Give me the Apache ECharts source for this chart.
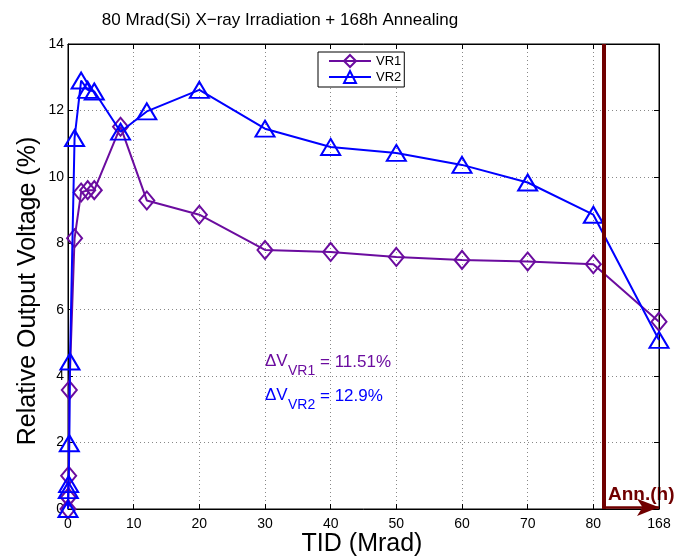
<!DOCTYPE html>
<html><head><meta charset="utf-8">
<script src="https://cdn.jsdelivr.net/npm/echarts@6/dist/echarts.min.js"></script>
<style>html,body{margin:0;padding:0;background:#fff}#c{width:678px;height:557px}</style>
</head><body><div id="c"></div>
<script>
// ---- data ----
const doseVR1 = [0, 0.05, 0.1, 0.2, 1, 2, 3, 4, 8, 12, 20, 30, 40, 50, 60, 70, 80, 90];
const vr1     = [0, 0.35, 1.0, 3.58, 8.15, 9.53, 9.6, 9.6, 11.51, 9.29, 8.86, 7.8, 7.74, 7.59, 7.5, 7.45, 7.37, 5.64];
const doseVR2 = [0, 0.05, 0.1, 0.2, 0.3, 1, 2, 3, 4, 8, 12, 20, 30, 40, 50, 60, 70, 80, 90];
const vr2     = [0, 0.57, 0.75, 1.98, 4.44, 11.17, 12.9, 12.62, 12.57, 11.36, 11.97, 12.62, 11.45, 10.9, 10.72, 10.36, 9.83, 8.86, 5.09];
const xTicks = [0, 10, 20, 30, 40, 50, 60, 70, 80, 90];
const xTickLabels = ['0', '10', '20', '30', '40', '50', '60', '70', '80', '168'];
const annealStart = 81.6;
const annealEnd = 90;
const seriesNames = ['VR1', 'VR2'];

const FF = '"Liberation Sans", Arial, Helvetica, sans-serif';
const PURPLE = '#6b0c9f', BLUE = '#0000ff', DARKRED = '#700000';

const chart = echarts.init(document.getElementById('c'));
const axisCommon = {
  type: 'value',
  axisLine: { show: true, onZero: false, lineStyle: { color: '#000', width: 1 } },
  axisTick: { show: true, inside: true, length: 5, lineStyle: { color: '#000' } },
};
const option = {
  animation: false,
  backgroundColor: '#fff',
  grid: { left: 68, right: 19, top: 44, bottom: 48, show: true, borderColor: '#000', borderWidth: 1 },
  legend: {
    data: seriesNames, left: 318, top: 52, orient: 'vertical',
    backgroundColor: '#fff', borderColor: '#000', borderWidth: 1,
    padding: [2, 3, 3, 10], itemWidth: 42, itemHeight: 15, itemGap: 2,
    textStyle: { fontFamily: FF, fontSize: 13, color: '#000' }
  },
  xAxis: [
    Object.assign({}, axisCommon, {
      min: 0, max: 90, interval: 10, position: 'bottom',
      axisLabel: { color: '#000', fontSize: 14, fontFamily: FF, margin: 8,
        formatter: v => xTickLabels[xTicks.indexOf(v)] },
      splitLine: { show: true, lineStyle: { color: '#888', type: [1, 3] } }
    }),
    Object.assign({}, axisCommon, {
      min: 0, max: 90, interval: 10, position: 'top',
      axisLabel: { show: false }, splitLine: { show: false }
    })
  ],
  yAxis: [
    Object.assign({}, axisCommon, {
      min: 0, max: 14, interval: 2, position: 'left',
      axisLabel: { color: '#000', fontSize: 14, fontFamily: FF, margin: 4 },
      splitLine: { show: true, lineStyle: { color: '#888', type: [1, 3] } }
    }),
    Object.assign({}, axisCommon, {
      min: 0, max: 14, interval: 2, position: 'right',
      axisLabel: { show: false }, splitLine: { show: false }
    })
  ],
  series: [
    {
      name: 'VR1', type: 'line', xAxisIndex: 0, yAxisIndex: 0,
      data: doseVR1.map((d, i) => [d, vr1[i]]),
      symbol: 'diamond', symbolSize: [15, 18],
      lineStyle: { color: PURPLE, width: 2 },
      itemStyle: { color: 'rgba(0,0,0,0)', borderColor: PURPLE, borderWidth: 2 },
      clip: false,
      markLine: {
        silent: true, animation: false,
        label: { show: false },
        lineStyle: { color: DARKRED, type: 'solid' },
        data: [
          [{ coord: [annealStart, 0], symbol: 'none', lineStyle: { width: 4, color: DARKRED } },
           { coord: [annealStart, 14], symbol: 'none' }],
          [{ coord: [annealStart, 0.05], symbol: 'none', lineStyle: { width: 2.5, color: DARKRED } },
           { coord: [annealEnd, 0.05], symbol: 'arrow', symbolSize: [13, 22] }]
        ]
      },
      z: 3
    },
    {
      name: 'VR2', type: 'line', xAxisIndex: 0, yAxisIndex: 0,
      data: doseVR2.map((d, i) => [d, vr2[i]]),
      symbol: 'triangle', symbolSize: [19, 16],
      lineStyle: { color: BLUE, width: 2 },
      itemStyle: { color: 'rgba(0,0,0,0)', borderColor: BLUE, borderWidth: 2 },
      clip: false,
      z: 4
    }
  ],
  graphic: [
    { type: 'text', x: 280, y: 20, style: { text: '80 Mrad(Si) X\u2212ray Irradiation + 168h Annealing', font: '17px ' + FF, fill: '#000', textAlign: 'center', textVerticalAlign: 'middle' } },
    { type: 'text', x: 28, y: 291, rotation: Math.PI / 2, style: { text: 'Relative Output Voltage (%)', font: '25px ' + FF, fill: '#000', textAlign: 'center', textVerticalAlign: 'middle' } },
    { type: 'text', x: 362, y: 544, style: { text: 'TID (Mrad)', font: '25px ' + FF, fill: '#000', textAlign: 'center', textVerticalAlign: 'middle' } },
    { type: 'text', x: 265, y: 361, style: { text: '\u0394V', font: '17px ' + FF, fill: PURPLE, textAlign: 'left', textVerticalAlign: 'middle' } },
    { type: 'text', x: 288, y: 371, style: { text: 'VR1', font: '14px ' + FF, fill: PURPLE, textAlign: 'left', textVerticalAlign: 'middle' } },
    { type: 'text', x: 320, y: 362, style: { text: '= 11.51%', font: '17px ' + FF, fill: PURPLE, textAlign: 'left', textVerticalAlign: 'middle' } },
    { type: 'text', x: 265, y: 395, style: { text: '\u0394V', font: '17px ' + FF, fill: BLUE, textAlign: 'left', textVerticalAlign: 'middle' } },
    { type: 'text', x: 288, y: 405, style: { text: 'VR2', font: '14px ' + FF, fill: BLUE, textAlign: 'left', textVerticalAlign: 'middle' } },
    { type: 'text', x: 320, y: 396, style: { text: '= 12.9%', font: '17px ' + FF, fill: BLUE, textAlign: 'left', textVerticalAlign: 'middle' } },
    { type: 'text', x: 608, y: 495, style: { text: 'Ann.(h)', font: 'bold 19px ' + FF, fill: DARKRED, textAlign: 'left', textVerticalAlign: 'middle' } }
  ]
};
chart.setOption(option);
</script></body></html>
